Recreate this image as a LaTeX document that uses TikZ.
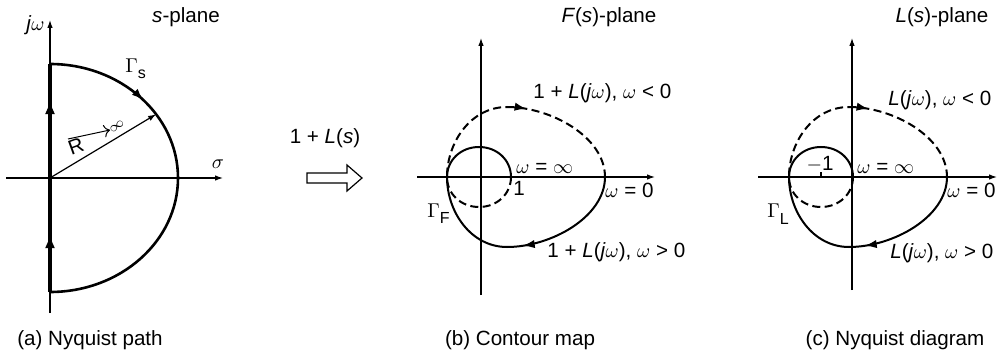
\documentclass[tikz,border=0pt]{standalone}
\usepackage{fontspec}
\setmainfont{Liberation Sans}
\usetikzlibrary{arrows.meta,decorations.markings}
\tikzset{
  >={Latex[length=4pt,width=2.8pt]},
  axis/.style={line width=0.6pt, ->},
  curve/.style={line width=1pt},
  dcurve/.style={line width=1pt, dash pattern=on 4pt off 2.2pt},
  lbl/.style={font=\fontsize{10.3}{12}\selectfont, inner sep=0pt},
  arrowat/.style={postaction={decorate}, decoration={markings,
      mark=at position #1 with {\arrow{Latex[length=6pt,width=4.2pt]}}}},
}

\begin{document}
\begin{tikzpicture}[x=0.5pt, y=-0.5pt]
  \useasboundingbox (0,0) rectangle (1007,353);

  % (a) Nyquist path in the s-plane
  \coordinate (Oa) at (50,178);
  \coordinate (xa0) at (6,178);
  \coordinate (xa1) at (223,178);
  \coordinate (ya0) at (50,313);
  \coordinate (ya1) at (50,20);
  \coordinate (top) at (50,64);
  \coordinate (bot) at (50,292);
  \path (Oa) ++(-34:128 and 114) coordinate (Ra);
  \draw[axis] (xa0) -- (xa1);
  \draw[axis] (ya0) -- (ya1);
  \draw[line width=1.8pt, postaction={decorate}, decoration={markings,
      mark=at position 0.254 with {\arrow{Latex[length=7pt,width=5pt]}},
      mark=at position 0.842 with {\arrow{Latex[length=7pt,width=5pt]}}}]
    (bot) -- (top);
  \draw[line width=1.3pt, arrowat=0.27]
    (top) arc[start angle=-90, end angle=90, x radius=128, y radius=114];
  \draw[line width=0.6pt, ->] (Oa) -- (Ra);
  \node[lbl, rotate=20] (rlab) at (76,146) {R};
  \coordinate (rar0) at (68,139);
  \coordinate (rar1) at (110,130);
  \draw[line width=0.5pt, -{To[length=3pt]}] (rar0) -- (rar1);
  \node[lbl, font=\scriptsize, rotate=35] (rinf) at (117,126) {$\infty$};
  \node[lbl, anchor=base east] (jw) at (45,31) {\textit{j}$\omega$};
  \node[lbl, anchor=base] (splane) at (186,23) {\textit{s}-plane};
  \node[lbl, anchor=base west] (gs) at (125,73) {$\Gamma$\raisebox{-3pt}{\footnotesize s}};
  \node[lbl] (sigma) at (218,164) {$\sigma$};
  \node[lbl, anchor=base] (capa) at (90,345) {(a) Nyquist path};

  % mapping arrow
  \node[lbl, anchor=base] (map) at (325,144) {1 + \textit{L}(\textit{s})};
  \draw[line width=0.6pt] (307,173) -- (347,173) -- (347,165) -- (362,178)
    -- (347,191) -- (347,183) -- (307,183) -- cycle;

  % (b) and (c) axes
  \coordinate (xb0) at (417,177);
  \coordinate (xb1) at (655,177);
  \coordinate (yb0) at (481,295);
  \coordinate (yb1) at (481,38);
  \coordinate (xc0) at (758,177);
  \coordinate (xc1) at (997,177);
  \coordinate (yc0) at (852,290);
  \coordinate (yc1) at (852,38);
  \draw[axis] (xb0) -- (xb1);
  \draw[axis] (yb0) -- (yb1);
  \draw[axis] (xc0) -- (xc1);
  \draw[axis] (yc0) -- (yc1);
  \draw[line width=0.6pt] (821,177) -- (821,172);

  % same contour, shifted
  \foreach \lx in {447,789}{
    \begin{scope}[shift={(\lx,177)}]
      \draw[curve, arrowat=0.88] (158,0) .. controls (158,40) and (104,70) .. (60,70);
      \draw[curve] (60,70) .. controls (24,70) and (0,35) .. (0,0)
        .. controls (0,-17) and (14,-30) .. (32,-30)
        .. controls (50,-30) and (64,-17) .. (64,0);
      \draw[dcurve] (64,0) .. controls (64,17) and (50,30) .. (32,30)
        .. controls (14,30) and (0,17) .. (0,0)
        .. controls (0,-35) and (24,-70) .. (60,-70);
      \draw[dcurve, arrowat=0.15] (60,-70) .. controls (104,-70) and (158,-40) .. (158,0);
    \end{scope}
  }

  % (b) labels
  \node[lbl, anchor=base] (fplane) at (609,23) {\textit{F}(\textit{s})-plane};
  \node[lbl, anchor=base west] (bneg) at (533,99) {1 + \textit{L}(\textit{j}$\omega$), $\omega$ < 0};
  \node[lbl, anchor=base west] (binf) at (516,174) {$\omega$ = $\infty$};
  \node[lbl, anchor=base] (bone) at (519,195) {1};
  \node[lbl, anchor=base west] (bzero) at (605,198) {$\omega$ = 0};
  \node[lbl, anchor=base west] (gf) at (427,217) {$\Gamma$\raisebox{-3pt}{\footnotesize F}};
  \node[lbl, anchor=base west] (bpos) at (547,257) {1 + \textit{L}(\textit{j}$\omega$), $\omega$ > 0};
  \node[lbl, anchor=base] (capb) at (520,345) {(b) Contour map};

  % (c) labels
  \node[lbl, anchor=base] (lplane) at (942,23) {\textit{L}(\textit{s})-plane};
  \node[lbl, anchor=base west] (cneg) at (888,106) {\textit{L}(\textit{j}$\omega$), $\omega$ < 0};
  \node[lbl, anchor=base west] (cinf) at (857,174) {$\omega$ = $\infty$};
  \node[lbl, anchor=base] (cm1) at (820,170) {$-$1};
  \node[lbl, anchor=base west] (czero) at (947,198) {$\omega$ = 0};
  \node[lbl, anchor=base west] (gl) at (767,218) {$\Gamma$\raisebox{-3pt}{\footnotesize L}};
  \node[lbl, anchor=base west] (cpos) at (890,258) {\textit{L}(\textit{j}$\omega$), $\omega$ > 0};
  \node[lbl, anchor=base] (capc) at (895,345) {(c) Nyquist diagram};
\end{tikzpicture}
\end{document}
